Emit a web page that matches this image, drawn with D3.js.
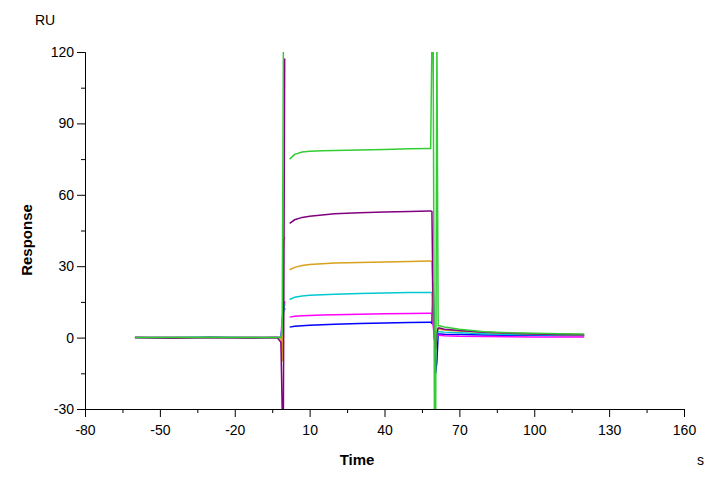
<!DOCTYPE html>
<html><head><meta charset="utf-8">
<script src="https://cdn.jsdelivr.net/npm/d3@7"></script>
<style>body{margin:0;background:#fff}text{font-family:"Liberation Sans",Arial,sans-serif}</style>
</head><body><svg id="c" width="720" height="480"></svg>
<script>
const xTicks=[-80,-50,-20,10,40,70,100,130,160];
const yTicks=[-30,0,30,60,90,120];
const names=["green","purple","orange","cyan","magenta","blue"];
const colors=["#33cc33","#800080","#d9a01c","#00c8d0","#ff00ff","#0000ff"];
const baseT=[-60,-45,-30,-15,-3];
const baseV=[[0,0,0,0,0],[0,-0.3,0,-0.2,0],[0,0,0,0,0],[0,0,0.2,0,0],[0,0,0,0,0],[0,0,0,0,0]];
const injT=[-1.5,-1,-0.5,0,0.3];
const injV=[[0,2,125,125,125],[-2,-30,-30,117,117],[0,-10,40,42,42],[0,5,10,14,14],[0,8,12,15,15],[0,4,13,12,12]];
const assocT=[2,4,7,10,15,20,30,40,50,58];
const assocV=[
[75,77,78,78.3,78.5,78.6,78.8,79,79.3,79.5],
[48,49.5,50.5,51,51.5,52,52.5,52.8,53,53.2],
[28.5,29.5,30.3,30.7,31,31.3,31.6,31.8,32,32.2],
[16,17,17.5,17.8,18,18.2,18.5,18.7,18.9,19],
[8.6,9,9.2,9.3,9.5,9.6,9.8,10,10.1,10.2],
[4.4,4.8,5,5.2,5.4,5.6,5.9,6.1,6.3,6.5]];
const endT=[58.5,59,59.5,60,60.5,61,61.5,62];
const endV=[[79.5,125,125,-35,-35,125,5,5],[53.2,53,10,0,-5,2,4,4],[32.2,32,10,0,-5,2,3.5,3.5],[19,19,10,0,-5,2,2.5,2.5],[10.2,10,5,0,-5,1,1,1],[6.5,6,23,5,-15,-10,1.5,1.5]];
const dissT=[62,64,70,80,90,100,110,120];
const dissV=[
[5,4.5,3.5,2.5,2,1.8,1.6,1.5],
[4,3.5,3,2.2,1.8,1.5,1.3,1.2],
[3.5,3.2,2.8,2.2,1.8,1.5,1.3,1.2],
[2.5,2.3,2,1.6,1.3,1.2,1.1,1],
[1,0.8,0.6,0.5,0.4,0.3,0.3,0.3],
[1.5,1.4,1.3,1.1,1,1,0.9,0.9]];

const svg=d3.select("#c");
const L=85,R=684,T=52,B=409;
const x=d3.scaleLinear().domain([-80,160]).range([L,R]);
const y=d3.scaleLinear().domain([-30,120]).range([B,T]);
svg.append("defs").append("clipPath").attr("id","cl").append("rect").attr("x",L).attr("y",T).attr("width",R-L).attr("height",B-T);
const fmt=d=>String(d);
const xa=svg.append("g").attr("transform",`translate(0,${B})`).call(d3.axisBottom(x).tickValues(xTicks).tickSize(8).tickSizeOuter(0).tickFormat(fmt));
const ya=svg.append("g").attr("transform",`translate(${L},0)`).call(d3.axisLeft(y).tickValues(yTicks).tickSize(8).tickSizeOuter(0).tickFormat(fmt));
svg.append("g").attr("transform",`translate(0,${B})`).call(d3.axisBottom(x).tickValues(xTicks.slice(0,-1).map(v=>v+15)).tickSize(4).tickFormat(""));
svg.append("g").attr("transform",`translate(${L},0)`).call(d3.axisLeft(y).tickValues(yTicks.slice(0,-1).map(v=>v+15)).tickSize(4).tickFormat(""));
svg.selectAll(".domain").attr("stroke","#000");
svg.selectAll(".tick text").attr("font-size",14).attr("fill","#000");
xa.selectAll(".tick text").attr("dy","1.1em");
const line=d3.line().defined(d=>d!==null).x(d=>x(d[0])).y(d=>y(d[1]));
const g=svg.append("g").attr("clip-path","url(#cl)");
[5,4,3,2,1,0].forEach(i=>{
  const pts=[];
  baseT.forEach((t,j)=>pts.push([t,baseV[i][j]]));
  injT.forEach((t,j)=>pts.push([t,injV[i][j]]));
  pts.push(null);
  assocT.forEach((t,j)=>pts.push([t,assocV[i][j]]));
  endT.forEach((t,j)=>pts.push([t,endV[i][j]]));
  dissT.forEach((t,j)=>pts.push([t,dissV[i][j]]));
  g.append("path").datum(pts).attr("d",line).attr("fill","none").attr("stroke",colors[i]).attr("stroke-width",1.5);
});
svg.append("text").attr("x",35).attr("y",25).attr("font-size",14).text("RU");
svg.append("text").attr("transform","translate(32,240) rotate(-90)").attr("text-anchor","middle").attr("font-size",15).attr("font-weight","bold").text("Response");
svg.append("text").attr("x",357).attr("y",465).attr("text-anchor","middle").attr("font-size",15).attr("font-weight","bold").text("Time");
svg.append("text").attr("x",697).attr("y",465).attr("font-size",14).text("s");
</script></body></html>
